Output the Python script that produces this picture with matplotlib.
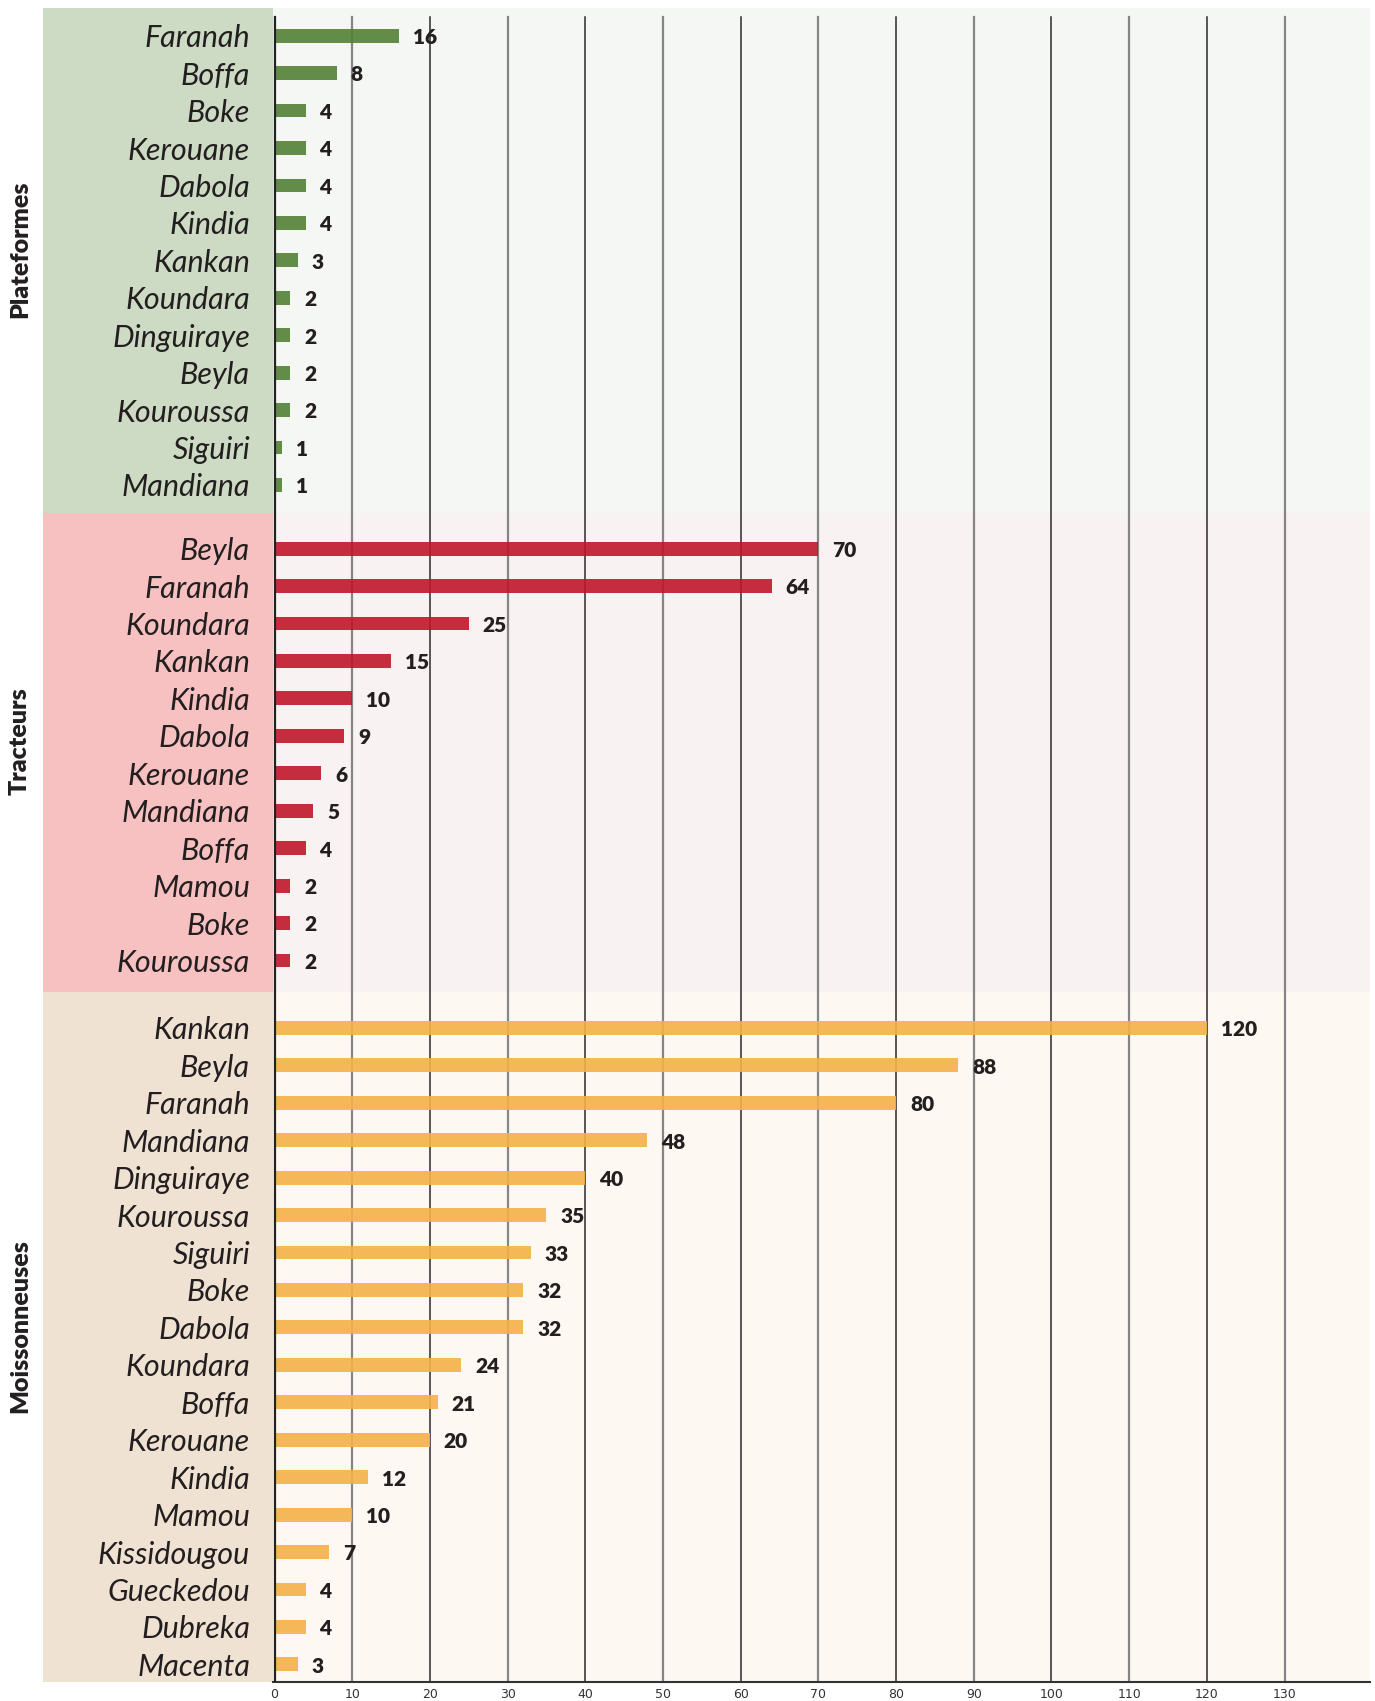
import matplotlib.pyplot as plt
from matplotlib.transforms import blended_transform_factory

# Données
plateformes_noms = ["Faranah", "Boffa", "Boke", "Kerouane", "Dabola", "Kindia", "Kankan",
                    "Koundara", "Dinguiraye", "Beyla", "Kouroussa", "Siguiri", "Mandiana"]
plateformes_vals = [16, 8, 4, 4, 4, 4, 3, 2, 2, 2, 2, 1, 1]

tracteurs_noms = ["Beyla", "Faranah", "Koundara", "Kankan", "Kindia", "Dabola", "Kerouane",
                  "Mandiana", "Boffa", "Mamou", "Boke", "Kouroussa"]
tracteurs_vals = [70, 64, 25, 15, 10, 9, 6, 5, 4, 2, 2, 2]

moissonneuses_noms = ["Kankan", "Beyla", "Faranah", "Mandiana", "Dinguiraye", "Kouroussa",
                      "Siguiri", "Boke", "Dabola", "Koundara", "Boffa", "Kerouane", "Kindia",
                      "Mamou", "Kissidougou", "Gueckedou", "Dubreka", "Macenta"]
moissonneuses_vals = [120, 88, 80, 48, 40, 35, 33, 32, 32, 24, 21, 20, 12, 10, 7, 4, 4, 3]

groupes = ["Plateformes", "Tracteurs", "Moissonneuses"]
ticks_x = list(range(0, 140, 10))

# Style
couleurs_barres = ["#538135", "#c0172b", "#f5b148"]
couleurs_bande = ["#cddac4", "#f7c1c1", "#efe2d2"]
couleurs_fond = ["#f5f7f4", "#f8f2f2", "#fdf8f2"]
texte = "#231f20"

W, H = 1375, 1701
fig = plt.figure(figsize=(W / 100, H / 100), dpi=100)
fig.patch.set_facecolor("white")

ax_top, ax_bot = 7.6, 1682
ax = fig.add_axes([273 / W, 1 - ax_bot / H, (1370 - 273) / W, (ax_bot - ax_top) / H])
ax_bande = fig.add_axes([43 / W, 1 - ax_bot / H, (273 - 43) / W, (ax_bot - ax_top) / H],
                        sharey=ax, zorder=-1)
ax_bande.axis("off")
ax.set_facecolor("none")

# positions des barres (une rangée = 1 unité)
debuts = [0.75, 14.45, 27.25]
limites = [(0, 13.5), (13.5, 26.3), (26.3, 44.72)]
donnees = [(plateformes_noms, plateformes_vals),
           (tracteurs_noms, tracteurs_vals),
           (moissonneuses_noms, moissonneuses_vals)]

positions, noms_tous = [], []
for i, (noms, vals) in enumerate(donnees):
    ys = [debuts[i] + k for k in range(len(noms))]
    positions += ys
    noms_tous += noms
    ax.axhspan(limites[i][0], limites[i][1], color=couleurs_fond[i], zorder=0, lw=0)
    ax_bande.axhspan(limites[i][0], limites[i][1], color=couleurs_bande[i], zorder=0, lw=0)
    ax.barh(ys, vals, height=0.37, color=couleurs_barres[i], alpha=0.9, zorder=2)
    for y, v in zip(ys, vals):
        ax.annotate(str(v), (v, y + 0.05), xytext=(10, 0), textcoords="offset points",
                    va="center", ha="left", fontsize=15, fontweight="heavy",
                    family=["Lato", "DejaVu Sans"], color=texte)

# lignes verticales
for k, t in enumerate(ticks_x[1:]):
    if k % 2 == 0:
        ax.axvline(t, ymin=0, ymax=0.9946, color="#858585", lw=1.6, zorder=1)
    else:
        ax.axvline(t, ymin=0, ymax=0.9946, color="#2a2a2a", lw=1.1, zorder=1)
ax.axvline(0, ymin=0, ymax=0.9946, color="#222222", lw=1.6, zorder=3)

ax.set_ylim(44.72, 0)
ax.set_xlim(-0.2, 141)

ax.set_yticks(positions)
ax.set_yticklabels(noms_tous, fontsize=22, style="italic", fontweight="normal",
                   family=["Lato", "DejaVu Sans"], color=texte)
ax.tick_params(axis="y", length=0, pad=16.5)
ax.set_xticks(ticks_x)
ax.set_xticklabels([str(t) for t in ticks_x], fontsize=9,
                   family=["Liberation Sans Narrow", "DejaVu Sans"], color="#333333")
ax.tick_params(axis="x", length=0, pad=4)

for s in ["top", "right", "left"]:
    ax.spines[s].set_visible(False)
ax.spines["bottom"].set_color("#333333")
ax.spines["bottom"].set_linewidth(1.5)

# titres des groupes
trans = blended_transform_factory(fig.transFigure, ax.transData)
for i, g in enumerate(groupes):
    yc = (limites[i][0] + limites[i][1]) / 2 - 0.3
    ax.text(20 / W, yc, g, transform=trans, rotation=90, ha="center", va="center",
            fontsize=18, fontweight="heavy", family=["Lato", "DejaVu Sans"], color=texte)

plt.savefig("out.png", dpi=100)
